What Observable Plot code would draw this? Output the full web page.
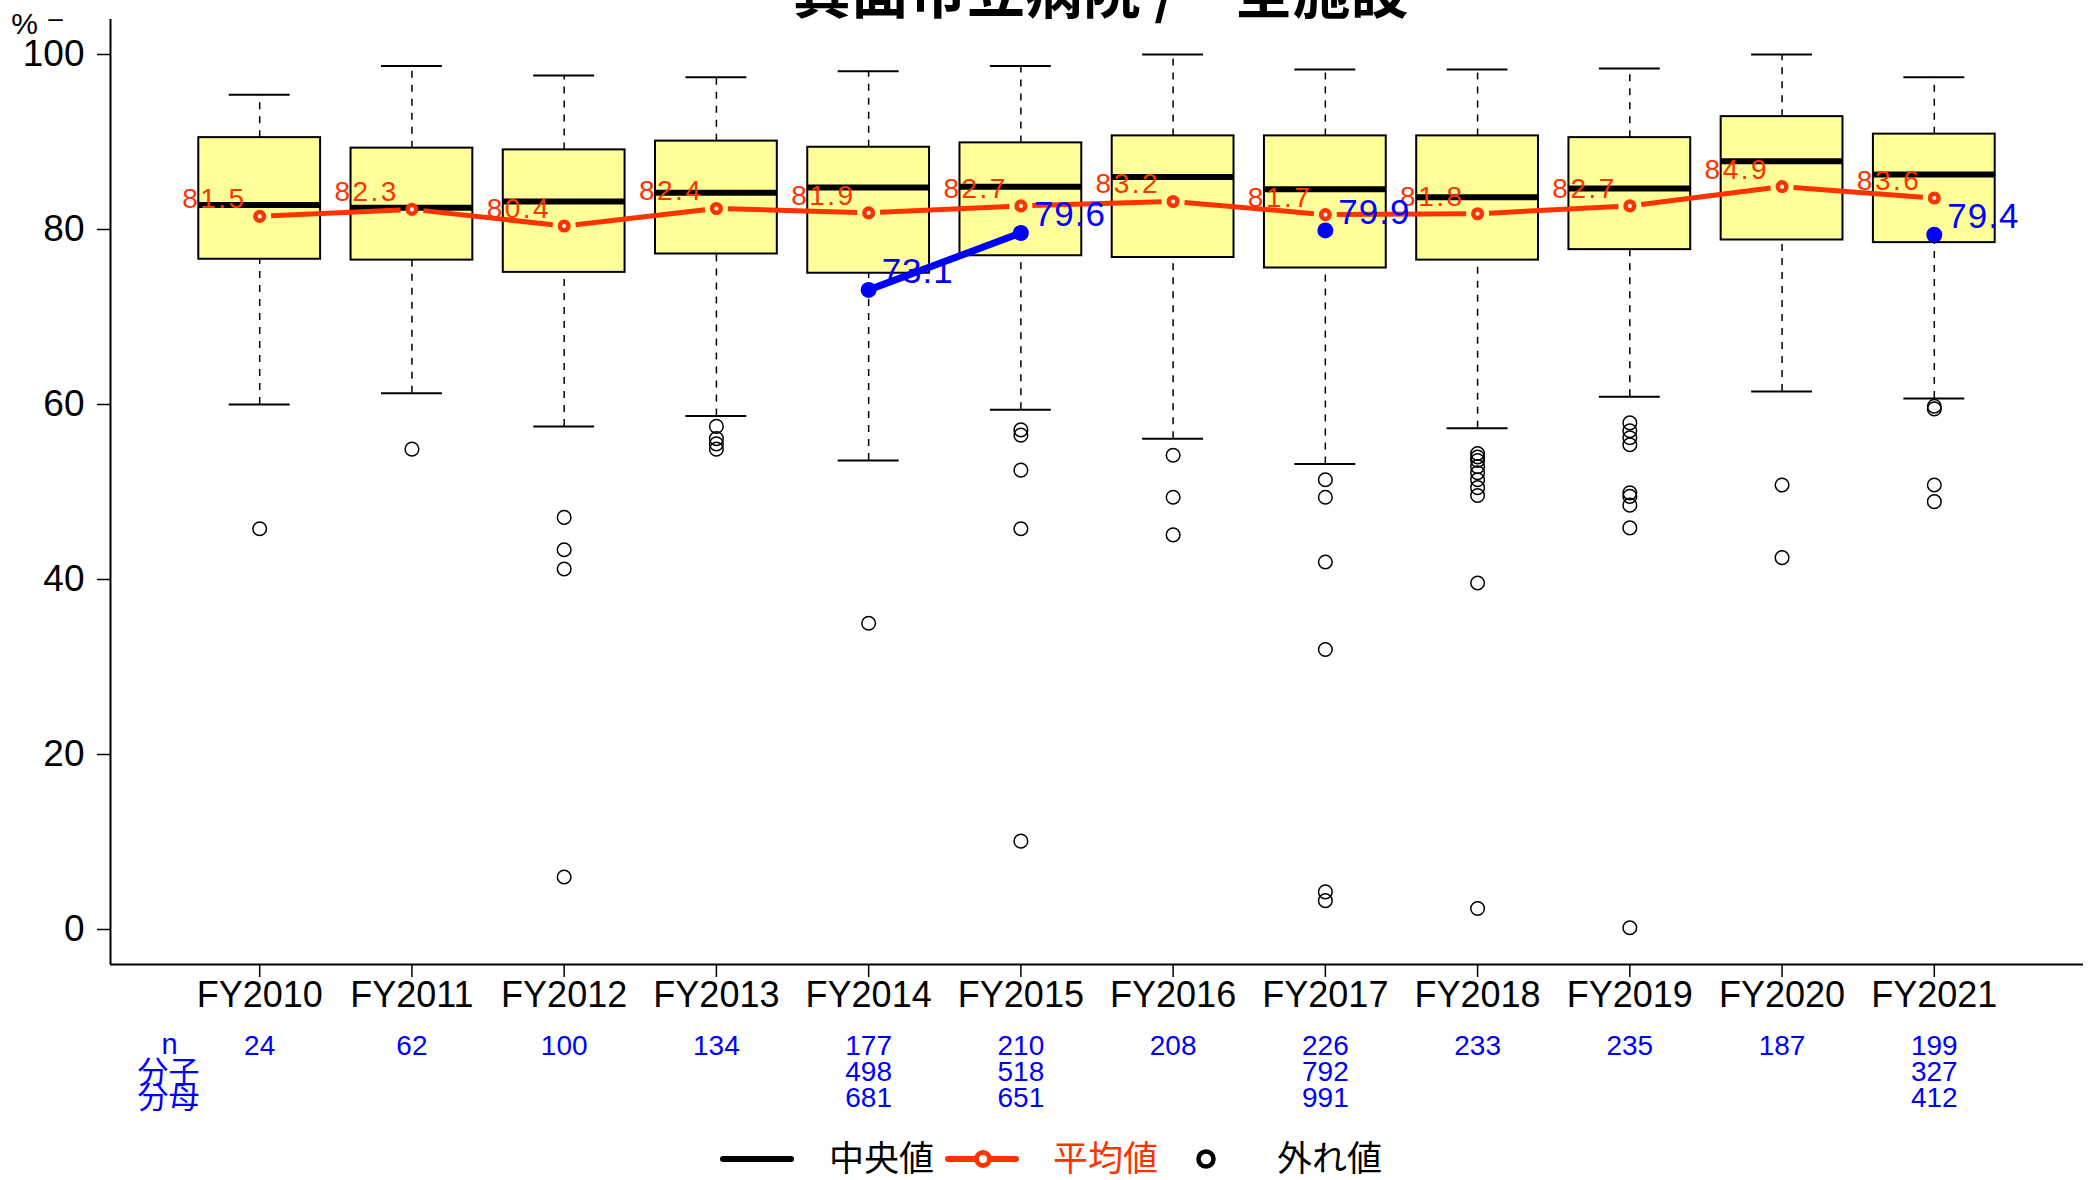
<!DOCTYPE html>
<html>
<head>
<meta charset="utf-8">
<script src="https://cdn.jsdelivr.net/npm/d3@7"></script>
<script src="https://cdn.jsdelivr.net/npm/@observablehq/plot@0.6"></script>
<style>
html, body { margin: 0; padding: 0; background: #fff; overflow: hidden; }
#wrap { position: relative; width: 2089px; height: 1180px; }
#wrap > svg { position: absolute; left: 0; top: 0; }
.overlay { position: absolute; left: 0; top: 0; pointer-events: none; }
</style>
</head>
<body>
<div id="wrap"></div>
<script>
// ---------- data ----------
const titleText = "箕面市立病院 /\u3000全施設";
const years = ["FY2010","FY2011","FY2012","FY2013","FY2014","FY2015","FY2016","FY2017","FY2018","FY2019","FY2020","FY2021"];
const whiskerLow  = [60.0, 61.3, 57.5, 58.7, 53.6, 59.4, 56.1, 53.2, 57.3, 60.9, 61.5, 60.7];
const q1          = [76.6, 76.5, 75.1, 77.2, 75.0, 77.0, 76.8, 75.6, 76.5, 77.7, 78.8, 78.5];
const median      = [82.8, 82.5, 83.2, 84.2, 84.8, 84.9, 86.0, 84.6, 83.7, 84.7, 87.8, 86.3];
const q3          = [90.5, 89.3, 89.1, 90.1, 89.4, 89.9, 90.7, 90.7, 90.7, 90.5, 92.9, 90.9];
const whiskerHigh = [95.4, 98.7, 97.6, 97.4, 98.1, 98.7, 100.0, 98.3, 98.3, 98.4, 100.0, 97.4];
const outliers = [
  [45.8],
  [54.9],
  [47.1, 43.4, 41.2, 6.0],
  [57.5, 56.1, 55.5, 54.9],
  [35.0],
  [57.1, 56.5, 52.5, 45.8, 10.1],
  [54.2, 49.4, 45.1],
  [51.4, 49.4, 42.0, 32.0, 4.3, 3.3],
  [54.4, 54.0, 53.6, 52.9, 52.2, 51.4, 50.5, 49.6, 39.6, 2.4],
  [57.9, 57.0, 56.2, 55.4, 49.9, 49.5, 48.5, 45.9, 0.2],
  [50.8, 42.5],
  [59.8, 59.5, 50.8, 48.9]
];
const means    = [81.5, 82.3, 80.4, 82.4, 81.9, 82.7, 83.2, 81.7, 81.8, 82.7, 84.9, 83.6];
const hospital = [null, null, null, null, 73.1, 79.6, null, 79.9, null, null, null, 79.4];
const nCount   = [24, 62, 100, 134, 177, 210, 208, 226, 233, 235, 187, 199];
const numer    = [null, null, null, null, 498, 518, null, 792, null, null, null, 327];
const denom    = [null, null, null, null, 681, 651, null, 991, null, null, null, 412];
const yTicks   = [0, 20, 40, 60, 80, 100];
const rowLabels = ["n", "分子", "分母"];
const legendLabels = ["中央値", "平均値", "外れ値"];

// ---------- colours / fonts ----------
const RED = "#ff3300", BLUE = "#0000ff", BOXFILL = "#ffff99";
const LATIN = "'Liberation Sans', Arial, sans-serif";
const CJK = "'Noto Sans CJK JP', 'Noto Sans CJK SC', sans-serif";

// ---------- derived tables ----------
const n = years.length;
const xDomain = [0.5 - 0.04 * n, n + 0.5 + 0.04 * n];
const ySpan = yTicks[yTicks.length - 1] - yTicks[0];
const yDomain = [yTicks[0] - 0.04 * ySpan, yTicks[yTicks.length - 1] + 0.04 * ySpan];
const boxW = 0.8, capW = 0.4, gap = 0.075;

const rows = years.map((year, i) => ({
  i: i + 1, year, lo: whiskerLow[i], q1: q1[i], med: median[i], q3: q3[i], hi: whiskerHigh[i],
  mean: means[i], hosp: hospital[i], n: nCount[i], num: numer[i], den: denom[i]
}));
const outRows = outliers.flatMap((arr, i) => arr.map(v => ({ i: i + 1, v })));
const meanSegs = rows.slice(0, -1).map((r, j) => {
  const s = rows[j + 1], d = s.mean - r.mean;
  return { x1: r.i + gap, y1: r.mean + d * gap, x2: s.i - gap, y2: s.mean - d * gap };
});
const hospRows = rows.filter(r => r.hosp != null);

const chart = Plot.plot({
  width: 2089, height: 1180,
  marginLeft: 110, marginRight: 6, marginTop: 19, marginBottom: 216,
  style: { fontFamily: LATIN, background: "transparent", color: "black" },
  x: { type: "linear", domain: xDomain, label: null },
  y: { domain: yDomain, label: null },
  marks: [
    // L-shaped frame
    Plot.ruleX([xDomain[0]], { stroke: "black", strokeWidth: 2 }),
    Plot.ruleY([yDomain[0]], { stroke: "black", strokeWidth: 2 }),
    Plot.axisY({ ticks: yTicks, tickSize: 13, tickPadding: 13, fontSize: 37, strokeWidth: 1.5, label: null, tickFormat: d => String(d) }),
    Plot.axisX({ ticks: rows.map(r => r.i), tickSize: 13, tickPadding: 4, fontSize: 36, strokeWidth: 1.5, label: null, tickFormat: i => years[i - 1] }),
    // whiskers
    Plot.ruleX(rows, { x: "i", y1: "q3", y2: "hi", stroke: "black", strokeWidth: 1.5, strokeDasharray: "7,7" }),
    Plot.ruleX(rows, { x: "i", y1: "lo", y2: "q1", stroke: "black", strokeWidth: 1.5, strokeDasharray: "7,7" }),
    Plot.ruleY(rows, { y: "hi", x1: d => d.i - capW / 2, x2: d => d.i + capW / 2, stroke: "black", strokeWidth: 2 }),
    Plot.ruleY(rows, { y: "lo", x1: d => d.i - capW / 2, x2: d => d.i + capW / 2, stroke: "black", strokeWidth: 2 }),
    // boxes
    Plot.rect(rows, { x1: d => d.i - boxW / 2, x2: d => d.i + boxW / 2, y1: "q1", y2: "q3", fill: BOXFILL, stroke: "black", strokeWidth: 2 }),
    Plot.ruleY(rows, { y: "med", x1: d => d.i - boxW / 2, x2: d => d.i + boxW / 2, stroke: "black", strokeWidth: 6 }),
    // outliers
    Plot.dot(outRows, { x: "i", y: "v", r: 6.8, stroke: "black", strokeWidth: 1.5, fill: "none" }),
    // means
    Plot.link(meanSegs, { x1: "x1", y1: "y1", x2: "x2", y2: "y2", stroke: RED, strokeWidth: 5 }),
    Plot.dot(rows, { x: "i", y: "mean", r: 4.3, stroke: RED, strokeWidth: 4.5, fill: "white" }),
    Plot.text(rows, { x: "i", y: "mean", text: d => d.mean.toFixed(1), textAnchor: "end", lineAnchor: "middle", dx: -13, dy: -17, fill: RED, fontSize: 28 }),
    // this hospital
    Plot.line(rows, { x: "i", y: "hosp", stroke: BLUE, strokeWidth: 7 }),
    Plot.dot(hospRows, { x: "i", y: "hosp", r: 8, fill: BLUE }),
    Plot.text(hospRows, { x: "i", y: "hosp", text: d => d.hosp.toFixed(1), textAnchor: "start", lineAnchor: "middle", dx: 13, dy: -18, fill: BLUE, fontSize: 35 }),
    // counts below the axis
    Plot.text(rows, { x: "i", frameAnchor: "bottom", text: "n", dy: 82, lineAnchor: "middle", fill: BLUE, fontSize: 28 }),
    Plot.text(rows.filter(r => r.num != null), { x: "i", frameAnchor: "bottom", text: "num", dy: 108, lineAnchor: "middle", fill: BLUE, fontSize: 28 }),
    Plot.text(rows.filter(r => r.den != null), { x: "i", frameAnchor: "bottom", text: "den", dy: 134, lineAnchor: "middle", fill: BLUE, fontSize: 28 }),
    Plot.text([rowLabels[0]], { frameAnchor: "bottom-left", text: d => d, textAnchor: "middle", dx: 59, dy: 80, lineAnchor: "middle", fill: BLUE, fontSize: 29 }),
    Plot.text([rowLabels[1]], { frameAnchor: "bottom-left", text: d => d, textAnchor: "middle", dx: 58, dy: 109, lineAnchor: "middle", fill: BLUE, fontSize: 31, fontFamily: CJK }),
    Plot.text([rowLabels[2]], { frameAnchor: "bottom-left", text: d => d, textAnchor: "middle", dx: 58, dy: 134, lineAnchor: "middle", fill: BLUE, fontSize: 31, fontFamily: CJK }),
    // unit mark top-left
    Plot.text(["%"], { frameAnchor: "top-left", text: d => d, textAnchor: "middle", dx: -86, dy: 5, lineAnchor: "middle", fontSize: 30 }),
    Plot.text(["–"], { frameAnchor: "top-left", text: d => d, textAnchor: "middle", dx: -55, dy: -1, lineAnchor: "middle", fontSize: 26 })
  ]
});
document.getElementById("wrap").appendChild(chart);
// wide digit spacing of the mean labels, as in the reference
d3.select(chart).selectAll(`g[fill="${RED}"] text`).attr("letter-spacing", 2.5);
d3.select(chart).selectAll(`g[fill="${BLUE}"] text`).filter(function () { return /\./.test(this.textContent); }).attr("letter-spacing", 1);

// ---------- title (partly above the window, as in the reference) ----------
const tsvg = d3.select("#wrap").append("svg").attr("class", "overlay").attr("width", 2089).attr("height", 60);
tsvg.append("text").attr("x", 793).attr("y", 13)
  .attr("font-family", CJK).attr("font-weight", "bold").attr("font-size", 58).attr("fill", "black")
  .text(titleText);

// ---------- legend ----------
const lg = d3.select("#wrap").append("svg").attr("class", "overlay")
  .style("top", "1120px").attr("width", 2089).attr("height", 60);
const cy = 39;
lg.append("line").attr("x1", 723).attr("x2", 791).attr("y1", cy).attr("y2", cy)
  .attr("stroke", "black").attr("stroke-width", 6).attr("stroke-linecap", "round");
lg.append("text").attr("x", 829).attr("y", cy + 12).attr("font-family", CJK).attr("font-size", 35).attr("fill", "black").text(legendLabels[0]);
lg.append("line").attr("x1", 948).attr("x2", 1016).attr("y1", cy).attr("y2", cy)
  .attr("stroke", RED).attr("stroke-width", 6).attr("stroke-linecap", "round");
lg.append("circle").attr("cx", 983).attr("cy", cy).attr("r", 6.5).attr("stroke", RED).attr("stroke-width", 5).attr("fill", "white");
lg.append("text").attr("x", 1053).attr("y", cy + 12).attr("font-family", CJK).attr("font-size", 35).attr("fill", RED).text(legendLabels[1]);
lg.append("circle").attr("cx", 1206).attr("cy", cy).attr("r", 7.5).attr("stroke", "black").attr("stroke-width", 4.5).attr("fill", "none");
lg.append("text").attr("x", 1277).attr("y", cy + 12).attr("font-family", CJK).attr("font-size", 35).attr("fill", "black").text(legendLabels[2]);
</script>
</body>
</html>
